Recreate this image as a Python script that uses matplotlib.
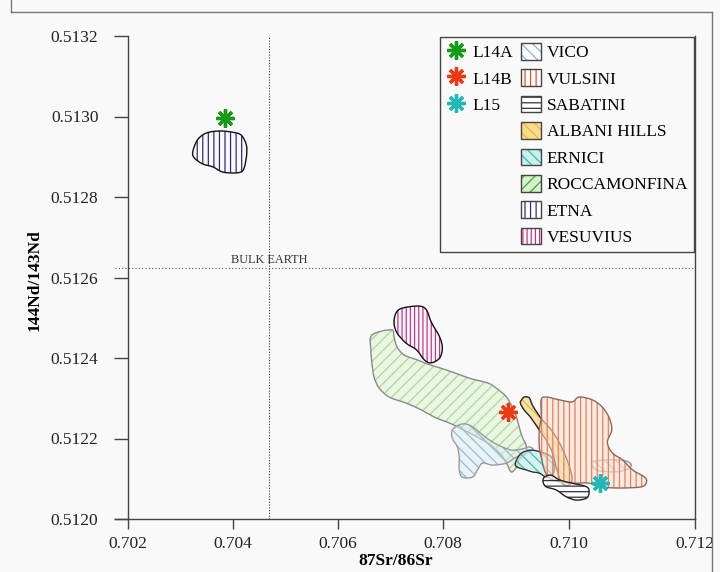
import numpy as np
import matplotlib
matplotlib.use('Agg')
import matplotlib.pyplot as plt
from matplotlib.path import Path
from matplotlib.patches import PathPatch, Patch
from matplotlib.lines import Line2D
from matplotlib.legend_handler import HandlerTuple

# samples
sample_names = ['L14A', 'L14B', 'L15']
sample_sr = [0.70386, 0.70904, 0.71050]
sample_nd = [0.512996, 0.512266, 0.512089]

# bulk earth reference
bulk_sr = 0.70470
bulk_nd = 0.512624

# volcanic field outlines (87Sr/86Sr, 143Nd/144Nd)
etna_sr = [0.70324, 0.70333, 0.70350, 0.70375, 0.70399, 0.70416, 0.70426, 0.70426,
           0.70420, 0.70407, 0.70381, 0.70362, 0.70343, 0.70327]
etna_nd = [0.512912, 0.512942, 0.512959, 0.512964, 0.512961, 0.512954, 0.512929,
           0.512899, 0.512867, 0.512860, 0.512862, 0.512875, 0.512882, 0.512897]

vesuvius_sr = [0.70723, 0.70755, 0.70769, 0.70778, 0.70794, 0.70799, 0.70794, 0.70778,
               0.70765, 0.70750, 0.70730, 0.70713, 0.70707, 0.70711]
vesuvius_nd = [0.512524, 0.512529, 0.512519, 0.512489, 0.512452, 0.512425, 0.512400,
               0.512388, 0.512395, 0.512420, 0.512437, 0.512462, 0.512487, 0.512512]

rocca_sr = [0.70665, 0.70702, 0.70707, 0.70713, 0.70727, 0.70752, 0.70771, 0.70806,
            0.70842, 0.70871, 0.70885, 0.70901, 0.70910, 0.70917, 0.70921, 0.70926,
            0.70932, 0.70932, 0.70921, 0.70917, 0.70910, 0.70906, 0.70901, 0.70890,
            0.70871, 0.70842, 0.70811, 0.70784, 0.70759, 0.70730, 0.70698, 0.70679,
            0.70669, 0.70665, 0.70663]
rocca_nd = [0.512457, 0.512470, 0.512452, 0.512427, 0.512407, 0.512395, 0.512385,
            0.512370, 0.512350, 0.512338, 0.512325, 0.512303, 0.512278, 0.512253,
            0.512229, 0.512204, 0.512184, 0.512164, 0.512147, 0.512129, 0.512117,
            0.512122, 0.512139, 0.512164, 0.512189, 0.512214, 0.512238, 0.512253,
            0.512271, 0.512288, 0.512303, 0.512325, 0.512353, 0.512388, 0.512420]

vico_sr = [0.70815, 0.70826, 0.70837, 0.70850, 0.70863, 0.70879, 0.70894, 0.70910,
           0.70926, 0.70937, 0.70942, 0.70917, 0.70901, 0.70879, 0.70863, 0.70855,
           0.70847, 0.70831, 0.70826, 0.70826, 0.70823, 0.70815]
vico_nd = [0.512221, 0.512234, 0.512236, 0.512226, 0.512209, 0.512191, 0.512179,
           0.512171, 0.512174, 0.512179, 0.512171, 0.512154, 0.512139, 0.512134,
           0.512139, 0.512122, 0.512104, 0.512104, 0.512122, 0.512154, 0.512179,
           0.512201]
vico2_sr = [0.71037, 0.71069, 0.71091, 0.71099, 0.71091, 0.71069, 0.71044]
vico2_nd = [0.512142, 0.512147, 0.512144, 0.512134, 0.512122, 0.512117, 0.512122]

albani_sr = [0.70925, 0.70929, 0.70937, 0.70942, 0.70950, 0.70958, 0.70972, 0.70985,
             0.70997, 0.71005, 0.71000, 0.70989, 0.70981, 0.70974, 0.70964, 0.70953,
             0.70940, 0.70929, 0.70923]
albani_nd = [0.512296, 0.512303, 0.512301, 0.512283, 0.512263, 0.512246, 0.512221,
             0.512189, 0.512147, 0.512104, 0.512084, 0.512089, 0.512122, 0.512164,
             0.512196, 0.512221, 0.512251, 0.512271, 0.512288]

vulsini_sr = [0.70956, 0.70964, 0.70985, 0.71005, 0.71016, 0.71037, 0.71053, 0.71064,
              0.71068, 0.71061, 0.71069, 0.71085, 0.71101, 0.71120, 0.71123, 0.71115,
              0.71080, 0.71048, 0.71032, 0.71005, 0.70985, 0.70969, 0.70961, 0.70956,
              0.70953, 0.70953, 0.70956]
vulsini_nd = [0.512296, 0.512303, 0.512296, 0.512291, 0.512303, 0.512296, 0.512278,
              0.512251, 0.512221, 0.512191, 0.512164, 0.512147, 0.512122, 0.512104,
              0.512092, 0.512080, 0.512077, 0.512080, 0.512089, 0.512089, 0.512092,
              0.512102, 0.512122, 0.512154, 0.512179, 0.512221, 0.512253]

ernici_sr = [0.70917, 0.70925, 0.70940, 0.70956, 0.70972, 0.70977, 0.70974, 0.70964,
             0.70953, 0.70942, 0.70932, 0.70921, 0.70915]
ernici_nd = [0.512147, 0.512164, 0.512171, 0.512166, 0.512154, 0.512129, 0.512109,
             0.512104, 0.512114, 0.512117, 0.512122, 0.512127, 0.512134]

sabatini_sr = [0.70961, 0.70972, 0.70985, 0.71005, 0.71028, 0.71032, 0.71028, 0.71012,
               0.70996, 0.70980, 0.70964, 0.70959]
sabatini_nd = [0.512104, 0.512109, 0.512097, 0.512089, 0.512080, 0.512067, 0.512052,
               0.512047, 0.512055, 0.512072, 0.512080, 0.512092]

sr_ticks = [0.702, 0.704, 0.706, 0.708, 0.710, 0.712]
nd_ticks = [0.5120, 0.5122, 0.5124, 0.5126, 0.5128, 0.5130, 0.5132]

# the original x axis is not evenly spaced: last two intervals are wider
scale_x = [0.700, 0.702, 0.704, 0.706, 0.708, 0.710, 0.712, 0.714]
scale_u = [-1.0, 0.0, 1.0, 2.0, 3.0, 4.2, 5.4, 6.6]


def forward(x):
    return np.interp(x, scale_x, scale_u)


def inverse(u):
    return np.interp(u, scale_u, scale_x)


def smooth_path(xs, ys):
    # closed Catmull-Rom outline through the given points, as cubic Beziers
    pts = np.column_stack([xs, ys])
    n = len(pts)
    verts = [pts[0]]
    codes = [Path.MOVETO]
    for i in range(n):
        p0, p1, p2, p3 = pts[i - 1], pts[i], pts[(i + 1) % n], pts[(i + 2) % n]
        verts += [p1 + (p2 - p0) / 6, p2 - (p3 - p1) / 6, p2]
        codes += [Path.CURVE4] * 3
    verts.append(pts[0])
    codes.append(Path.CLOSEPOLY)
    return Path(verts, codes)


styles = {
    'VICO': dict(face='#dcedf3', fa=0.5, legface='#ffffff', hatch='\\\\\\', hc='#8dc0d6', edge='#9a9a9a'),
    'VULSINI': dict(face='#fbe3d6', fa=0.6, legface='#ffffff', hatch='|||', hc='#ef7c52', edge='#8a6a5a'),
    'SABATINI': dict(face='#ffffff', fa=0.6, legface='#ffffff', hatch='---', hc='#333333', edge='#222222'),
    'ALBANI HILLS': dict(face='#f8dc8c', fa=0.75, legface='#f8dc8c', hatch='\\\\\\', hc='#e8b840', edge='#222222'),
    'ERNICI': dict(face='#c9eeec', fa=0.7, legface='#c9eeec', hatch='\\\\\\', hc='#38bcb8', edge='#333333'),
    'ROCCAMONFINA': dict(face='#e6f4dc', fa=0.7, legface='#d8f0cc', hatch='///', hc='#a6dc92', edge='#8a8a8a'),
    'ETNA': dict(face='#ffffff', fa=0.0, legface='#ffffff', hatch='|||', hc='#2e2e7e', edge='#111111'),
    'VESUVIUS': dict(face='#ffffff', fa=0.0, legface='#ffffff', hatch='||||', hc='#cc2f8a', edge='#111111'),
}
legend_hatch_color = {'ROCCAMONFINA': '#33b033', 'VULSINI': '#e0502a', 'VICO': '#7fb8d4'}
legend_order = ['VICO', 'VULSINI', 'SABATINI', 'ALBANI HILLS', 'ERNICI',
                'ROCCAMONFINA', 'ETNA', 'VESUVIUS']
draw_order = [('ROCCAMONFINA', rocca_sr, rocca_nd),
              ('VICO', vico_sr, vico_nd),
              ('VICO', vico2_sr, vico2_nd),
              ('ERNICI', ernici_sr, ernici_nd),
              ('ALBANI HILLS', albani_sr, albani_nd),
              ('VULSINI', vulsini_sr, vulsini_nd),
              ('SABATINI', sabatini_sr, sabatini_nd),
              ('ETNA', etna_sr, etna_nd),
              ('VESUVIUS', vesuvius_sr, vesuvius_nd)]
sample_colors = ['#179a17', '#ee3a12', '#22b8b8']

plt.rcParams['font.family'] = ['Liberation Serif', 'DejaVu Serif']
plt.rcParams['hatch.linewidth'] = 0.9

fig = plt.figure(figsize=(7.2, 5.72), dpi=100, facecolor='#f9f9f9')
ax = fig.add_axes([114.5 / 720, 1 - 519 / 572, 580.5 / 720, 483 / 572])
ax.set_facecolor('none')
ax.set_xscale('function', functions=(forward, inverse))
ax.set_xlim(0.70175, 0.712)
ax.set_ylim(0.5120, 0.5132)

# outer frame of the figure
for xs, ys in [([11, 11], [-10, 12]), ([11, 712], [12, 12]), ([712, 712], [12, 600])]:
    fig.add_artist(Line2D(np.array(xs) / 720, 1 - np.array(ys) / 572,
                          color='#777777', lw=1.0))

ax.axvline(bulk_sr, color='#333333', lw=0.8, ls=(0, (1, 1.5)), zorder=1)
ax.axhline(bulk_nd, color='#555555', lw=0.8, ls=(0, (1, 2)), zorder=1)
ax.text(bulk_sr, bulk_nd + 0.000004, 'BULK EARTH', fontsize=8.8, color='#333333',
        ha='center', va='bottom')

for name, xs, ys in draw_order:
    st = styles[name]
    path = smooth_path(xs, ys)
    if st['fa'] > 0:
        ax.add_patch(PathPatch(path, facecolor=st['face'], alpha=st['fa'],
                               edgecolor='none', zorder=2))
    ax.add_patch(PathPatch(path, facecolor='none', edgecolor=st['hc'], hatch=st['hatch'],
                           lw=0, zorder=2))
    ax.add_patch(PathPatch(path, facecolor='none', edgecolor=st['edge'], lw=1.0, zorder=2))

marker = (8, 2, 0)
sample_handles = []
for name, sx, sy, c in zip(sample_names, sample_sr, sample_nd, sample_colors):
    h, = ax.plot([sx], [sy], ls='none', marker=marker, ms=13, mew=2.4, color=c, zorder=5)
    sample_handles.append(h)

# legend: samples in first column, fields in the second
blank = Patch(facecolor='none', edgecolor='none')
handles = list(sample_handles) + [blank] * 5
labels = list(sample_names) + [''] * 5
for name in legend_order:
    st = styles[name]
    face = Patch(facecolor=st['legface'], edgecolor='none')
    hatch = Patch(facecolor='none', edgecolor=legend_hatch_color.get(name, st['hc']),
                  hatch=st['hatch'], lw=0)
    edge = Patch(facecolor='none', edgecolor='#444444', lw=1.0)
    handles.append((face, hatch, edge))
    labels.append(name)

leg = ax.legend(handles, labels, ncol=2, loc='upper right', bbox_to_anchor=(1.0, 1.0),
                borderaxespad=0.05, fontsize=12.5, frameon=True, fancybox=False,
                edgecolor='#444444', facecolor='#f9f9f9', framealpha=1,
                handlelength=1.2, handleheight=1.1, handletextpad=0.3,
                labelspacing=0.47, columnspacing=0.45, borderpad=0.35,
                handler_map={tuple: HandlerTuple(ndivide=1)})
leg.get_frame().set_linewidth(1.0)
leg.set_zorder(6)

ax.spines['top'].set_visible(False)
ax.spines['left'].set_position(('data', 0.702))
for s in ['left', 'bottom', 'right']:
    ax.spines[s].set_color('#444444')
    ax.spines[s].set_linewidth(1.0)

ax.set_xticks(sr_ticks)
ax.set_xticklabels(['%.3f' % v for v in sr_ticks])
ax.set_yticks(nd_ticks)
ax.set_yticklabels(['%.4f' % v for v in nd_ticks])
ax.xaxis.set_minor_locator(matplotlib.ticker.NullLocator())
ax.tick_params(axis='x', direction='out', length=7, width=1, color='#444444',
               labelsize=12.5, pad=5, labelcolor='#222222')
ax.tick_params(axis='y', direction='out', length=10, width=1, color='#444444',
               labelsize=12.5, pad=11, labelcolor='#222222')

ax.set_xlabel('87Sr/86Sr', fontsize=12.5, fontweight='bold')
ax.xaxis.set_label_coords(0.485, -0.087)
ax.xaxis.label.set_verticalalignment('center')
ax.set_ylabel('144Nd/143Nd', fontsize=12.5, fontweight='bold')
ax.yaxis.set_label_coords(-0.137, 0.495)
ax.yaxis.label.set_verticalalignment('center')

fig.savefig('out.png', dpi=100, facecolor=fig.get_facecolor())
